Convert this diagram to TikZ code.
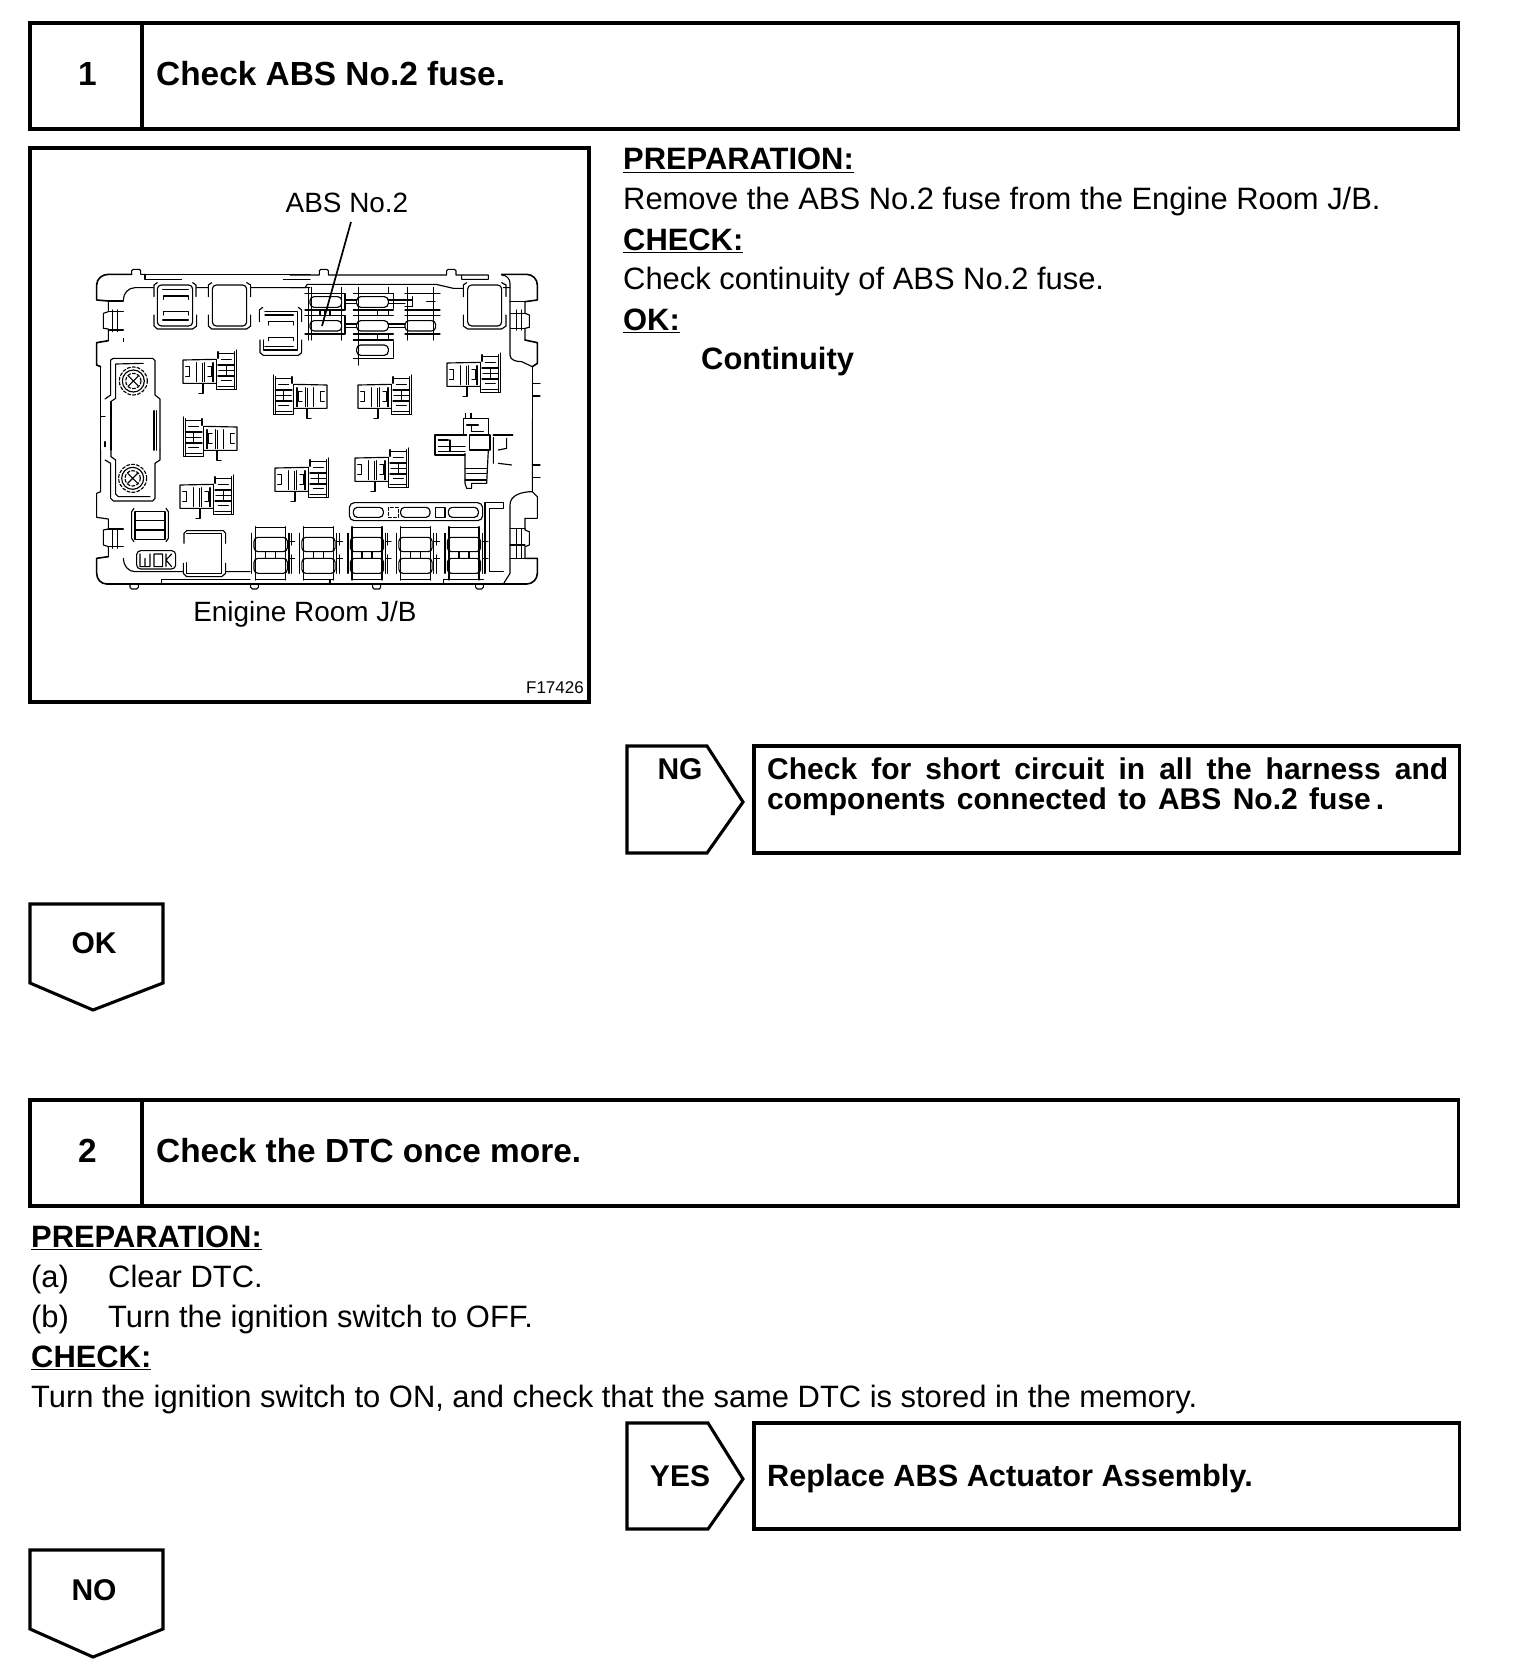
\documentclass[tikz,border=0pt]{standalone}
\usepackage{fontspec}
\setmainfont{Liberation Sans}
\newcommand\bodyf{\fontsize{30.9}{31}\selectfont}
\newcommand\boldf{\fontsize{30.7}{31}\selectfont\bfseries}
\newcommand\headf{\fontsize{33.4}{34}\selectfont\bfseries}
\newcommand\artf{\fontsize{27.9}{28}\selectfont}
\newcommand\smallf{\fontsize{17}{17}\selectfont}
\newcommand\cnr[3]{%
\begin{scope}[shift={(#1,#2)},xscale=#3,scale=1/3,art]
\draw (100,28)--(0,30)--(0,100)--(100,100);
\draw (100,28)--(100,118)--(160,118)--(160,0);
\draw (105,5)--(105,25) (155,5)--(155,118);
\draw (105,10)--(155,10) (105,45)--(155,45) (105,78)--(155,78) (105,110)--(155,110);
\draw (130,45)--(130,78) (108,62)--(152,62);
\draw (115,28)--(145,28) (115,92)--(145,92);
\draw (40,38)--(40,95) (65,38)--(65,95) (58,40)--(58,95) (90,38)--(90,95);
\draw (8,50)--(20,50)--(20,80)--(8,80) (75,50)--(85,50)--(85,80)--(75,80);
\draw (48,130)--(60,130)--(60,102);
\end{scope}}
\newcommand\lowblk[1]{%
\begin{scope}[shift={(#1,430)},scale=1/3,art]
\draw (-45,292)--(45,292) (-45,290)--(-45,450) (45,290)--(45,450);
\draw (-57,310)--(-57,430) (55,310)--(55,430);
\draw[rounded corners=4pt] (-50,322) rectangle (50,365);
\draw[rounded corners=4pt] (-50,385) rectangle (50,430);
\draw (-45,448)--(45,448) (-15,365)--(-15,385) (15,365)--(15,385);
\draw (55,335)--(72,335) (55,385)--(72,385) (62,310)--(62,345) (62,375)--(62,430);
\end{scope}}
\newcommand\pill[4]{\draw[rounded corners=4pt] (#1,#2) rectangle (#3,#4);}
\newcommand\bolt[2]{%
\draw[densely dashed] (#1,#2) circle (42pt);
\draw (#1,#2) circle (33pt);
\draw[densely dashed] (#1,#2) circle (23pt);
\draw (#1-15,#2-15)--(#1+15,#2+15) (#1-15,#2+15)--(#1+15,#2-15);}
\tikzset{
  art/.style={line width=1.15pt,line cap=round,line join=round},
  heavy/.style={line width=3.5pt,line join=miter},
  medium/.style={line width=3.1pt,line join=miter},
  lab/.style={inner sep=0pt,anchor=base west,font=\bodyf},
  blab/.style={inner sep=0pt,anchor=base west,font=\boldf},
  hlab/.style={inner sep=0pt,anchor=base west,font=\headf},
  nlab/.style={inner sep=0pt,anchor=base,font=\headf},
  clab/.style={inner sep=0pt,anchor=base,font=\fontsize{30}{30}\selectfont\bfseries},
  alab/.style={inner sep=0pt,anchor=base,font=\artf},
}
\begin{document}
\begin{tikzpicture}[x=1pt,y=-1pt]
\useasboundingbox[fill=white] (0,0) rectangle (1520,1672);
% step headers
\draw[heavy] (30,23) rectangle (1458.5,129);
\draw[heavy] (142,23)--(142,129);
\node[nlab] (n1) at (87.5,86) {1};
\node[hlab] (t1) at (156,86) {Check ABS No.2 fuse.};
\draw[heavy] (30,1100) rectangle (1458.5,1206);
\draw[heavy] (142,1100)--(142,1206);
\node[nlab] (n2) at (87.5,1162) {2};
\node[hlab] (t2) at (156,1162) {Check the DTC once more.};
% illustration frame
\draw[heavy] (30,148) rectangle (589,702);
\node[alab] (absl) at (347,212) {ABS No.2};
\node[alab] (room) at (305,621) {Enigine Room J/B};
\node[inner sep=0,anchor=base east,font=\smallf] (fig) at (584,693) {F17426};
\coordinate (leadA) at (351,222);
\coordinate (leadB) at (322,326);
\draw[line width=1.7pt] (leadA)--(leadB);
% --- upper-left of the junction block
\begin{scope}[shift={(80,250)},scale=1/3,art]
\draw (195,73)--(690,73) (195,73)--(195,88)--(305,88) (610,88)--(690,88);
\draw[line width=1.6pt] (155,73)--(85,73) to[out=180,in=90] (50,105)--(50,150)--(85,153);
\draw (85,153)--(85,185)--(70,190)--(70,235)--(85,237)--(85,272);
\draw[line width=1.6pt] (85,272)--(50,278)--(50,345)--(62,350);
\draw (62,350)--(62,600);
\draw (155,73)--(155,62)--(160,58)--(178,58)--(182,62)--(182,73)--(195,73);
\draw (85,153)--(130,153) (85,185)--(130,185) (85,240)--(130,240) (97,180)--(97,245) (112,180)--(112,245);
\draw (130,150) to[out=90,in=180] (165,113)--(220,113) (350,113)--(385,113) (512,113)--(690,113);
% relay A
\pill{232}{105}{338}{228}
\draw (232,98)--(222,105)--(222,140) (338,98)--(348,105)--(348,140);
\draw (222,195)--(222,228)--(232,237)--(338,237)--(350,228)--(350,195);
\draw (248,118)--(325,118) (250,148)--(250,138)--(325,138)--(325,148);
\draw (250,195)--(250,185)--(325,185)--(325,195) (248,210)--(325,210);
% relay B
\pill{397}{105}{500}{228}
\draw (395,98)--(385,105)--(385,140) (500,98)--(512,105)--(512,140);
\draw (385,195)--(385,228)--(395,237)--(500,237)--(512,228)--(512,195);
% relay C
\draw (538,215)--(538,180)--(548,172) (655,172)--(665,180)--(665,215);
\draw (555,185)--(652,185)--(652,300)--(550,300)--(550,270);
\draw (555,195)--(640,195) (565,225)--(565,215)--(640,215)--(640,225);
\draw (565,272)--(565,262)--(640,262)--(640,272) (555,290)--(640,290);
\draw (540,270)--(540,308)--(550,316)--(655,316)--(665,308)--(665,270);
% bolt holder
\draw (92,435)--(92,330)--(100,325)--(218,325)--(225,332)--(225,435)--(240,447)--(240,600);
\draw (92,435)--(75,447) (92,455)--(107,445)--(107,342)--(190,340);
\draw (93,600)--(93,455) (222,482)--(222,600) (230,482)--(230,600) (62,500)--(75,500) (75,575)--(75,590);
\bolt{160}{393}
\draw (130,265)--(130,275);
\end{scope}
% --- lower-left
\begin{scope}[shift={(80,430)},scale=1/3,art]
\draw (62,60)--(62,185)--(50,190)--(50,262)--(85,267)--(85,297)--(70,300)--(70,345)--(85,350)--(85,380);
\draw[line width=1.6pt] (85,380)--(50,385)--(50,430) to[out=270,in=180] (80,462);
\draw (80,462)--(690,462);
\draw (97,295)--(97,355) (112,295)--(112,355) (85,297)--(130,297) (85,350)--(130,350);
\draw (75,90)--(92,100)--(92,205)--(100,213)--(218,213)--(225,205)--(225,100)--(240,90)--(240,60);
\draw (93,60)--(93,80)--(107,90)--(107,192)--(115,200)--(210,200);
\draw (222,60)--(222,55) (230,60)--(230,55);
\bolt{158}{145}
% small relay
\draw (155,245)--(155,325)--(162,335) (265,245)--(265,325)--(258,335) (155,245)--(162,235) (265,245)--(258,235);
\draw (165,245)--(255,245) (165,272)--(255,272) (165,300)--(255,300) (165,328)--(255,328) (165,245)--(165,328) (255,245)--(255,328);
% label plate
\draw[rounded corners=4pt] (170,362) rectangle (287,417);
\draw (180,372)--(180,410)--(210,410)--(210,372) (195,385)--(195,410) (222,372)--(222,410)--(248,410)--(248,372)--(222,372) (258,372)--(258,410) (258,390)--(275,372) (258,390)--(275,410);
% lower relay
\draw (130,385) to[out=270,in=180] (165,425)--(310,425) (437,425)--(510,425);
\draw (312,340)--(312,310)--(320,302)--(430,302)--(437,310)--(437,340);
\draw (320,310)--(425,310)--(425,430)--(320,430)--(320,398);
\draw (310,400)--(310,430)--(320,440)--(425,440)--(437,430)--(437,400);
% bottom strip and tabs
\draw (245,462)--(245,448)--(510,448);
\draw (150,462)--(150,472)--(155,477)--(170,477)--(175,472)--(175,462);
\draw (512,462)--(512,472)--(517,477)--(530,477)--(535,472)--(535,462);
\end{scope}
% --- upper-right
\begin{scope}[shift={(290,250)},scale=1/3,art]
\draw (0,75)--(88,75) (88,75)--(88,62)--(93,58)--(110,58)--(115,62)--(115,75)--(470,75)--(470,62)--(475,58)--(493,58)--(498,62)--(498,75)--(595,75) (515,75)--(515,88)--(595,88)--(595,75);
\draw (0,113)--(45,113)--(52,103)--(438,103)--(490,115)--(520,115) (640,113)--(660,113);
\draw[line width=1.6pt] (635,73)--(710,73) to[out=0,in=90] (742,105)--(742,150)--(705,155);
\draw (705,155)--(705,190)--(718,195)--(718,232)--(705,235)--(705,270);
\draw[line width=1.6pt] (705,270)--(742,278)--(742,340)--(727,350);
\draw (727,350)--(727,600);
\draw (635,75) to[out=0,in=90] (660,100)--(660,315) to[out=270,in=180] (695,335)--(727,350);
\draw (660,155)--(705,155) (662,190)--(705,190) (662,235)--(705,235) (680,180)--(680,240) (695,180)--(695,240);
\draw (727,400)--(750,400) (727,438)--(750,438);
% relay D
\pill{533}{105}{635}{228}
\draw (530,98)--(520,105)--(520,140) (635,98)--(648,105)--(648,140);
\draw (520,195)--(520,228)--(533,237)--(635,237)--(648,228)--(648,195);
% top fuse block
\draw (55,112)--(55,270) (65,112)--(65,270) (155,112)--(155,270);
\draw (45,130)--(165,130)--(165,180)--(45,180) (45,197)--(165,197)--(165,252)--(45,252);
\pill{60}{140}{155}{172}
\pill{60}{212}{155}{243}
\draw (90,180)--(90,197) (105,180)--(105,197) (120,180)--(120,197);
\draw (165,150)--(200,150) (165,160)--(200,160) (165,222)--(200,222) (165,232)--(200,232);
\draw (205,112)--(205,345) (295,112)--(295,130) (295,180)--(295,197) (295,252)--(295,270);
\draw (190,130)--(310,130) (190,180)--(310,180) (190,197)--(310,197) (190,252)--(310,252) (190,270)--(310,270) (190,325)--(310,325) (310,275)--(310,322);
\pill{200}{140}{295}{172}
\pill{200}{212}{295}{243}
\pill{200}{285}{295}{316}
\draw (262,180)--(262,197) (262,252)--(262,270);
\draw (295,150)--(345,150) (295,160)--(345,160) (295,222)--(345,222) (295,232)--(345,232) (310,130)--(310,175);
\draw (345,130)--(450,130) (345,180)--(450,180) (345,197)--(450,197) (345,252)--(450,252);
\draw (353,112)--(353,270) (430,112)--(430,270) (368,140)--(368,170) (345,150)--(368,150) (410,155)--(435,155) (345,170)--(368,170);
\pill{345}{212}{437}{243}
% top box of the large connector
\draw (520,555)--(520,505)--(595,505)--(595,555) (527,490)--(527,505) (543,490)--(543,505);
\draw (530,525)--(565,525) (545,525)--(545,545)--(580,545);
\end{scope}
% --- lower-right
\begin{scope}[shift={(290,430)},scale=1/3,art]
% large connector
\draw (435,75)--(435,15)--(530,15) (445,30)--(475,30) (480,30)--(480,65) (445,50)--(525,50) (445,65)--(525,65) (435,75)--(525,75);
\draw (538,15)--(600,15)--(600,60)--(538,60)--cycle;
\draw[line width=1.6pt] (610,15)--(668,15);
\draw (610,22)--(610,100) (650,25)--(650,55)--(625,60) (625,100)--(665,105);
\draw (525,70)--(525,160)--(530,175)--(545,175)--(545,160)--(590,160)--(595,60);
\draw (525,115)--(590,115) (525,150)--(590,150) (530,130)--(590,130);
% right side
\draw (727,-30)--(727,185)--(742,200)--(742,265)--(705,265);
\draw (705,265)--(705,300)--(718,305)--(718,345)--(705,350)--(705,385);
\draw[line width=1.6pt] (705,385)--(742,385)--(742,430) to[out=270,in=0] (710,462);
\draw (710,462)--(0,462);
\draw (727,185) to[out=180,in=90] (660,225)--(660,430)--(640,462);
\draw (660,295)--(705,295) (660,345)--(705,345) (660,385)--(705,385) (680,295)--(680,385) (695,295)--(695,385);
\draw (727,105)--(750,105) (727,143)--(750,143);
% slim fuse row
\draw[rounded corners=5pt] (178,218) rectangle (578,272);
\pill{190}{232}{280}{262}
\pill{332}{232}{420}{262}
\pill{475}{232}{565}{262}
\draw[densely dashed] (295,232) rectangle (325,262);
\draw (437,232) rectangle (465,262);
% side fuse
\draw (640,235)--(640,218)--(585,218)--(585,430) (640,235)--(598,235)--(598,425)--(640,425);
\draw (40,448)--(120,448)--(120,462) (460,462)--(460,448)--(580,448);
\draw (248,462)--(248,472)--(252,477)--(268,477)--(272,472)--(272,462);
\draw (557,462)--(557,472)--(562,477)--(575,477)--(580,472)--(580,462);
\end{scope}
% repeated connectors and fuses
\cnr{183}{350}{1}
\cnr{327}{375}{-1}
\cnr{358}{375}{1}
\cnr{447}{353}{1}
\cnr{237}{417}{-1}
\cnr{180}{475}{1}
\cnr{275}{458}{1}
\cnr{355}{448}{1}
\lowblk{270.7}
\lowblk{318.5}
\lowblk{367}
\lowblk{415.5}
\lowblk{464}
% text of step 1
\node[lab] (p1) at (623,170) {\textbf{\underline{PREPARATION:}}};
\node[lab] (p2) at (623,210) {Remove the ABS No.2 fuse from the Engine Room J/B.};
\node[lab] (p3) at (623,250) {\textbf{\underline{CHECK:}}};
\node[lab] (p4) at (623,289) {Check continuity of ABS No.2 fuse.};
\node[lab] (p5) at (623,330) {\textbf{\underline{OK:}}};
\node[lab] (p6) at (701,369) {\textbf{Continuity}};
% NG branch
\draw[medium] (627,746)--(707,746)--(743,802)--(707,853)--(627,853)--cycle;
\node[clab] (ng) at (680,779) {NG};
\draw[heavy] (754,746) rectangle (1459.5,853);
\node[blab,font=\fontsize{30}{30}\selectfont\bfseries] (ng1) at (767,779) {\makebox[681pt][s]{Check for short circuit in all the harness and}};
\node[blab,font=\fontsize{30}{30}\selectfont\bfseries] (ng2) at (767,809) {\makebox[617pt][s]{components connected to ABS No.2 fuse\,.}};
% OK branch
\draw[medium] (30,904)--(163,904)--(163,983)--(93,1010)--(30,983)--cycle;
\node[clab] (ok) at (94,953) {OK};
% text of step 2
\node[lab] (q1) at (31,1247) {\textbf{\underline{PREPARATION:}}};
\node[lab] (q2) at (31,1287) {(a)};
\node[lab] (q2b) at (108,1287) {Clear DTC.};
\node[lab] (q3) at (31,1327) {(b)};
\node[lab] (q3b) at (108,1327) {Turn the ignition switch to OFF.};
\node[lab] (q4) at (31,1367) {\textbf{\underline{CHECK:}}};
\node[lab] (q5) at (31,1407) {Turn the ignition switch to ON, and check that the same DTC is stored in the memory.};
% YES branch
\draw[medium] (627,1423)--(708,1423)--(743,1479)--(708,1529)--(627,1529)--cycle;
\node[clab] (yes) at (680,1486) {YES};
\draw[heavy] (754,1423) rectangle (1459.5,1529);
\node[blab] (yes1) at (767,1486) {Replace ABS Actuator Assembly.};
% NO branch
\draw[medium] (30,1550)--(163,1550)--(163,1629)--(93,1657)--(30,1629)--cycle;
\node[clab] (no) at (94,1600) {NO};
\end{tikzpicture}
\end{document}
